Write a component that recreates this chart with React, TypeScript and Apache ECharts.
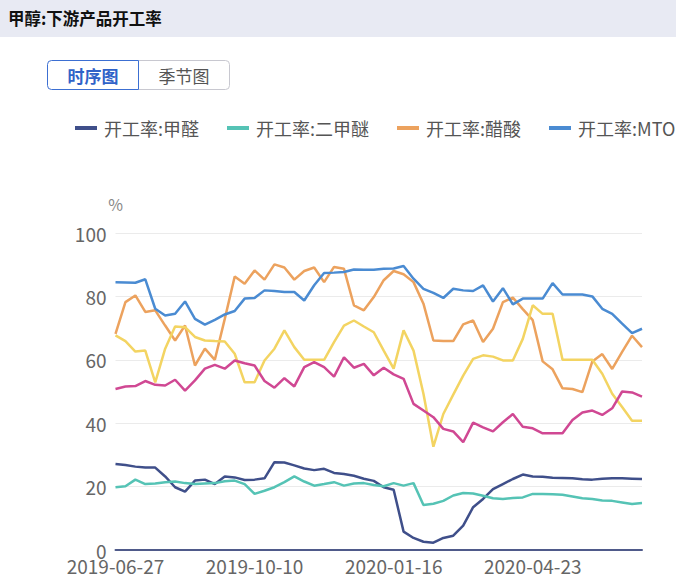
import React, { useEffect, useRef } from "react";
import * as echarts from "echarts";

const dates = [
  "2019-06-27", "2019-07-04", "2019-07-11", "2019-07-18", "2019-07-25", "2019-08-01", "2019-08-08", "2019-08-15", "2019-08-22", "2019-08-29",
  "2019-09-05", "2019-09-12", "2019-09-19", "2019-09-26", "2019-10-10", "2019-10-17", "2019-10-24", "2019-10-31", "2019-11-07", "2019-11-14",
  "2019-11-21", "2019-11-28", "2019-12-05", "2019-12-12", "2019-12-19", "2019-12-26", "2020-01-02", "2020-01-09", "2020-01-16", "2020-01-23",
  "2020-01-30", "2020-02-06", "2020-02-13", "2020-02-20", "2020-02-27", "2020-03-05", "2020-03-12", "2020-03-19", "2020-03-26", "2020-04-02",
  "2020-04-09", "2020-04-16", "2020-04-23", "2020-04-30", "2020-05-07", "2020-05-14", "2020-05-21", "2020-05-28", "2020-06-04", "2020-06-11",
  "2020-06-18", "2020-06-25", "2020-07-02", "2020-07-09",
];

const formaldehyde = [
  27.1, 26.8, 26.3, 26, 26, 23.2, 19.8, 18.4, 21.9, 22.2,
  20.8, 23.2, 22.9, 22.1, 22.2, 22.6, 27.7, 27.6, 26.7, 25.7,
  25.2, 25.6, 24.3, 24, 23.4, 22.5, 21.8, 19.8, 19, 5.8,
  3.8, 2.6, 2.3, 3.8, 4.5, 7.7, 13.5, 16.1, 19.2, 20.8,
  22.4, 23.8, 23.2, 23.1, 22.8, 22.7, 22.6, 22.3, 22.2, 22.5,
  22.6, 22.6, 22.5, 22.4,
];

const dme = [
  19.8, 20.1, 22.2, 20.8, 21, 21.4, 21.6, 21.1, 20.8, 21,
  21.1, 21.7, 21.9, 20.8, 17.7, 18.7, 19.8, 21.4, 23.2, 21.6,
  20.3, 20.8, 21.4, 20.3, 21, 21.1, 20.5, 20.1, 21.1, 20.3,
  21.1, 14.2, 14.6, 15.5, 17.2, 18, 17.8, 17.1, 16.3, 16.1,
  16.4, 16.6, 17.7, 17.7, 17.6, 17.4, 16.9, 16.3, 16.1, 15.6,
  15.5, 15, 14.5, 14.8,
];

const aceticAcid = [
  68.2, 78.2, 80.3, 75.1, 75.6, 70.8, 66.1, 70.8, 58.2, 63.5,
  60, 72.9, 86.3, 84, 88.2, 85.3, 90.1, 89.1, 85.3, 88,
  89.1, 84.5, 89.3, 88.7, 77.2, 75.6, 79.8, 85.1, 88, 87,
  84.5, 77.7, 66.1, 65.9, 65.9, 71.2, 72.4, 65.6, 69.8, 78.2,
  79.6, 76, 72.5, 59.5, 57, 51, 50.8, 49.8, 59.5, 61.8,
  57.1, 62.5, 67.6, 64,
];

const mto = [
  84.5, 84.4, 84.3, 85.4, 76.1, 74, 74.5, 78.4, 72.9, 71.1,
  72.6, 74.3, 75.4, 79.3, 79.5, 81.9, 81.7, 81.4, 81.4, 78.7,
  83.5, 87.4, 87.5, 87.7, 88.5, 88.4, 88.4, 88.7, 88.8, 89.6,
  85.6, 82.4, 81.1, 79.5, 82.4, 81.9, 81.7, 83.5, 78.4, 82.6,
  77.5, 79.3, 79.3, 79.3, 84.2, 80.6, 80.6, 80.6, 80, 76.1,
  74.5, 71.4, 68.4, 69.8,
];

const mtbe = [
  67.7, 65.9, 62.6, 62.9, 52.9, 63.5, 70.5, 70.3, 67.2, 66.1,
  65.9, 65.8, 61.9, 52.9, 52.9, 59.8, 63.5, 69.3, 64, 60,
  60, 60, 65.6, 70.8, 72.4, 70.5, 68.7, 62.9, 57.2, 69.3,
  62.9, 49.3, 32.6, 42.9, 49, 55, 60.3, 61.4, 61, 59.8,
  59.8, 66.6, 77.2, 74.5, 74.5, 60, 60, 60, 60, 55.6,
  49.3, 45.1, 40.8, 40.8,
];

const chloromethane = [
  50.8, 51.6, 51.7, 53.3, 52.1, 51.9, 53.7, 50.3, 53.5, 57.2,
  58.4, 57.2, 59.8, 58.9, 58.2, 53.3, 51.2, 54.2, 51.6, 57.7,
  59.3, 57.7, 54.7, 60.8, 57.5, 58.7, 55.1, 57.5, 55.4, 54,
  46.1, 44, 41.9, 38.2, 37.4, 34, 40.2, 38.7, 37.4, 40.3,
  42.9, 38.9, 38.4, 36.8, 36.8, 36.8, 41, 43.4, 44, 42.6,
  44.7, 50, 49.7, 48.4,
];

const seriesNames = [
  "开工率:甲醛",
  "开工率:二甲醚",
  "开工率:醋酸",
  "开工率:MTO",
  "开工率:MTBE",
  "开工率:甲烷氯化物",
];
const seriesData = [formaldehyde, dme, aceticAcid, mto, mtbe, chloromethane];
const colors = ["#3f4f8a", "#55c3b5", "#eca25e", "#4a8bd2", "#f3d462", "#d04893"];

const yTicks = [0, 20, 40, 60, 80, 100];

export default function App() {
  const ref = useRef<HTMLDivElement>(null);

  useEffect(() => {
    if (!ref.current) return;
    const chart = echarts.init(ref.current, null, { renderer: "svg" });
    const font = "'Noto Sans CJK SC', 'Noto Sans', sans-serif";
    chart.setOption({
      animation: false,
      color: colors,
      textStyle: { fontFamily: font },
      title: {
        text: "甲醇:下游产品开工率",
        left: 8,
        top: 10,
        padding: 0,
        textStyle: { fontSize: 16.5, fontWeight: "bold", color: "#111", fontFamily: font },
      },
      graphic: [
        {
          type: "rect",
          z: -10,
          shape: { x: 0, y: 0, width: 676, height: 37 },
          style: { fill: "#e8eaf3" },
          silent: true,
        },
        {
          type: "rect",
          shape: { x: 138.5, y: 60.5, width: 91, height: 29, r: [0, 4, 4, 0] },
          style: { fill: "#fff", stroke: "#c8c8d0", lineWidth: 1 },
        },
        {
          type: "rect",
          shape: { x: 47.5, y: 60.5, width: 91, height: 29, r: [4, 0, 0, 4] },
          style: { fill: "#fff", stroke: "#3c6fd2", lineWidth: 1 },
        },
        {
          type: "text",
          x: 93,
          y: 75,
          style: {
            text: "时序图",
            fill: "#2f62c8",
            fontSize: 17,
            fontWeight: "bold",
            fontFamily: font,
            align: "center",
            verticalAlign: "middle",
          },
        },
        {
          type: "text",
          x: 184,
          y: 75,
          style: {
            text: "季节图",
            fill: "#555",
            fontSize: 17,
            fontFamily: font,
            align: "center",
            verticalAlign: "middle",
          },
        },
      ],
      legend: {
        left: 75,
        top: 119,
        padding: 0,
        width: 2000,
        icon: "rect",
        itemWidth: 22,
        itemHeight: 4,
        itemGap: 28,
        textStyle: { fontSize: 18, color: "#555", fontFamily: font, padding: [0, 0, 0, 2] },
        data: seriesNames,
      },
      grid: { left: 115.5, right: 34, top: 233, bottom: 37, containLabel: false },
      xAxis: {
        type: "category",
        data: dates,
        boundaryGap: false,
        axisLine: { lineStyle: { color: "#4f5a8a", width: 2 } },
        axisTick: { show: false },
        axisLabel: { interval: 13, fontSize: 19, color: "#666", margin: 6, fontFamily: font },
        splitLine: { show: false },
      },
      yAxis: {
        type: "value",
        min: yTicks[0],
        max: yTicks[yTicks.length - 1],
        interval: 20,
        name: "%",
        nameGap: 21,
        nameTextStyle: { fontSize: 16, color: "#888", fontFamily: font },
        axisLine: { show: false },
        axisTick: { show: false },
        axisLabel: { fontSize: 19, color: "#666", margin: 9, fontFamily: font },
        splitLine: { lineStyle: { color: "#ebebeb", width: 1 } },
      },
      series: seriesNames.map((name, i) => ({
        name,
        type: "line",
        data: seriesData[i],
        showSymbol: false,
        symbol: "none",
        smooth: false,
        lineStyle: { width: 2.5, color: colors[i] },
        itemStyle: { color: colors[i] },
      })),
    });
    return () => chart.dispose();
  }, []);

  return (
    <div
      ref={ref}
      style={{ position: "absolute", left: 0, top: 0, width: 676, height: 587, background: "#fff" }}
    />
  );
}
